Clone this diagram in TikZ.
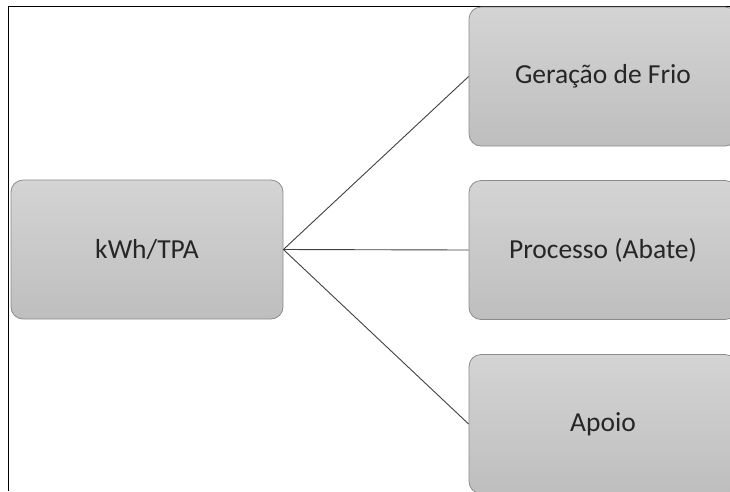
\documentclass[tikz,border=0pt]{standalone}
\usepackage{fontspec}
\setmainfont{Carlito}
\usepackage{xcolor}
\usepackage{tikz}
\usetikzlibrary{
  arrows.meta,
  positioning
}
\definecolor{boxtop}{HTML}{D4D4D4}
\definecolor{boxbot}{HTML}{BEBEBE}
\definecolor{boxedge}{HTML}{8C8C8C}
\definecolor{linkcolor}{HTML}{404040}

\begin{document}
\begin{tikzpicture}[
  x=1pt, y=-1pt,
  block/.style={draw=boxedge, top color=boxtop, bottom color=boxbot,
                rounded corners=12pt, line width=0.8pt,
                minimum width=268pt, minimum height=139pt,
                font=\fontsize{27.5}{33}\selectfont, text=black!85,
                align=center, inner sep=0pt},
  link/.style={draw=linkcolor, line width=0.9pt},
  frame/.style={draw=black, line width=1pt},
]
  \useasboundingbox (0,0) rectangle (730,491);
  \clip (0,0) rectangle (730,491);

  % Frame
  \draw[frame] (8,491) -- (8,6) -- (730,6);

  % Root
  \node[block, minimum width=272pt] (kpi) at (147, 249.5) {kWh/TPA};

  % Branches
  \node[block] (frio) at (603, 76.5) {Geração de Frio};
  \node[block] (processo) at (603, 250) {Processo (Abate)};
  \node[block] (apoio) at (603, 424) {Apoio};

  \draw[link] (kpi.east) -- (frio.west);
  \draw[link] (kpi.east) -- (processo.west);
  \draw[link] (kpi.east) -- (apoio.west);

\end{tikzpicture}
\end{document}
